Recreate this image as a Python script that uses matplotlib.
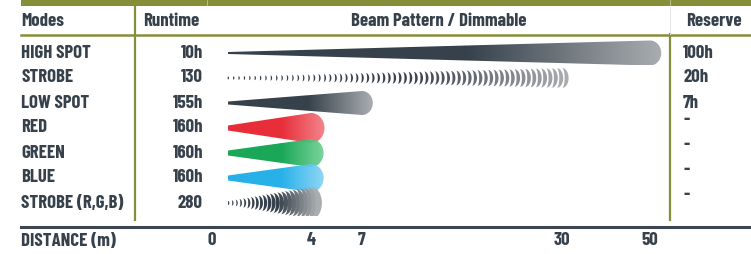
import numpy as np
import matplotlib
matplotlib.use('Agg')
import matplotlib.pyplot as plt
from matplotlib.patches import Polygon, Rectangle
from matplotlib.colors import LinearSegmentedColormap
from matplotlib.transforms import blended_transform_factory

# table content
modes = ['HIGH SPOT', 'STROBE', 'LOW SPOT', 'RED', 'GREEN', 'BLUE', 'STROBE (R,G,B)']
runtime = ['10h', '130', '155h', '160h', '160h', '160h', '280']
reserve = ['100h', '20h', '7h', '-', '-', '-', '-']
beam_dist = [50, 30, 7, 4, 4, 4, 4]          # metres
beam_kind = ['spot', 'strobe', 'spot', 'spot', 'spot', 'spot', 'strobe']
dist_ticks = [0, 4, 7, 30, 50]
headers = ['Modes', 'Runtime', 'Beam Pattern / Dimmable', 'Reserve']

# styles
OLIVE = '#878e3a'
TXT = '#36414b'
FONT = ['Barlow Condensed', 'DejaVu Sans']
FS = 13.5
# the distance axis is not linear: px offset of each tick, plus one knot past 50 m
SCALE_D = dist_ticks + [60]
SCALE_X = [0, 99, 150, 350, 438, 470]
BEAM_PAD = 16                     # beams start a little right of the "0"
beam_h0 = [2, 3, 3, 5, 5, 5, 4]   # px, start height
beam_h1 = [25, 20, 24, 30, 28, 28, 33]  # px, end height
beam_col = ['#36414b', '#36414b', '#36414b', '#e61e2a', '#08a04a', '#17aae8', '#36414b']
beam_end = ['#a9adb0', '#a9adb0', '#a9adb0', '#f27c84', '#70d294', '#86d4f4', '#a9adb0']
n_arcs = {1: 64, 6: 23}
ROW_PX = 25.0
ROW0 = 53.0

fig = plt.figure(figsize=(7.51, 2.54), dpi=100)

# background / layout axes in pixel units
bg = fig.add_axes([0, 0, 1, 1])
bg.set_xlim(0, 751)
bg.set_ylim(254, 0)
bg.axis('off')

# beam axes: x = distance on a piecewise scale, y = row index
top = ROW0 - ROW_PX / 2
bot = top + ROW_PX * len(modes)
ax = fig.add_axes([212 / 751, (254 - bot) / 254, 470 / 751, (bot - top) / 254])
ax.patch.set_alpha(0)
ax.set_xscale('function', functions=(lambda d: np.interp(d, SCALE_D, SCALE_X),
                                     lambda p: np.interp(p, SCALE_X, SCALE_D)))
ax.set_autoscale_on(False)
ax.set_xlim(0, 60)
ax.set_ylim(len(modes) - 0.5, -0.5)
for s in ax.spines.values():
    s.set_visible(False)
ax.set_yticks([])
ax.set_xticks(dist_ticks, labels=[str(d) for d in dist_ticks],
              fontfamily=FONT, fontweight='bold', fontsize=FS, color=TXT)
ax.tick_params(axis='x', length=0, pad=12)

# draw in "scaled" space so shapes stay straight on the non linear axis
tr = ax.transLimits + ax.transAxes


def scaled_x(d):
    return ax.transScale.transform([[d, 0]])[0, 0]


def grad_cmap(c0, c1):
    return LinearSegmentedColormap.from_list('g', [(0, c0), (0.55, c0), (1, c1)])


for i, kind in enumerate(beam_kind):
    xs = scaled_x(0) + BEAM_PAD
    xe = scaled_x(beam_dist[i])
    y = i
    h0 = beam_h0[i] / ROW_PX
    h1 = beam_h1[i] / ROW_PX
    cmap = grad_cmap(beam_col[i], beam_end[i])
    if kind == 'spot':
        rx = 0.45 * beam_h1[i]
        th = np.linspace(-np.pi / 2, np.pi / 2, 40)
        px = np.concatenate([[xs], xe + rx * np.cos(th), [xs]])
        py = np.concatenate([[y - h0 / 2], y + h1 / 2 * np.sin(th), [y + h0 / 2]])
        poly = Polygon(np.column_stack([px, py]), closed=True, transform=tr)
        grad = cmap(np.linspace(0, 1, 256))[None, :, :]
        im = ax.imshow(grad, extent=(xs, xe + rx, y + h1 / 2, y - h1 / 2),
                       transform=tr, aspect='auto', interpolation='bilinear',
                       alpha=0.93 if i >= 3 else 1.0)
        im.set_clip_path(poly)
    else:
        n = n_arcs[i]
        th = np.linspace(-np.pi / 2, np.pi / 2, 25)
        for k in range(n):
            t = k / (n - 1)
            cx = xs + t * (xe - xs)
            hp = beam_h0[i] + t * (beam_h1[i] - beam_h0[i])
            rxo = 0.33 * hp
            rxi = rxo - max(0.2 * hp, 1.3)
            hy = hp / 2 / ROW_PX
            ox = cx + rxo * np.cos(th)
            ix = cx + rxi * np.cos(th[::-1])
            oy = y + hy * np.sin(th)
            iy = y + hy * np.sin(th[::-1])
            ax.add_patch(Polygon(np.column_stack([np.r_[ox, ix], np.r_[oy, iy]]),
                                 closed=True, transform=tr, facecolor=cmap(t),
                                 edgecolor='none'))

# table lines
bg.add_patch(Rectangle((21, 0), 730, 6, color=OLIVE, lw=0))
bg.plot([21, 751], [34.5, 34.5], color=OLIVE, lw=1.8)
bg.plot([135, 135], [0, 220], color=OLIVE, lw=1.6)
bg.plot([670, 670], [34, 220], color=OLIVE, lw=1.6)
bg.plot([670, 670], [6, 34], color='#e4e4e4', lw=0.7)
for xv in (207, 670):
    bg.plot([xv, xv], [0, 6], color='white', lw=0.5, alpha=0.6)
bg.plot([21, 751], [227, 227], color='#3b4650', lw=2.2)

# header
hx = [21, 171, 439, 714]
ha = ['left', 'center', 'center', 'center']
for h, x, a in zip(headers, hx, ha):
    bg.text(x, 22, h, ha=a, va='center', fontsize=FS, fontweight='bold',
            color=TXT, family=FONT)

# rows
rowtr = blended_transform_factory(bg.transData, ax.transData)
for i, m in enumerate(modes):
    bg.text(21, i, m, transform=rowtr, ha='left', va='center', fontsize=FS,
            fontweight='bold', color=TXT, family=FONT)
    bg.text(203, i, runtime[i], transform=rowtr, ha='right', va='center',
            fontsize=FS, fontweight='bold', color=TXT, family=FONT)
    yr = i - 0.3 if reserve[i] == '-' else i
    bg.text(683, yr, reserve[i], transform=rowtr, ha='left', va='center',
            fontsize=FS, fontweight='bold', color=TXT, family=FONT)

bg.text(21, 241, 'DISTANCE (m)', ha='left', va='center', fontsize=FS,
        fontweight='bold', color=TXT, family=FONT)

fig.savefig('out.png', dpi=100)
